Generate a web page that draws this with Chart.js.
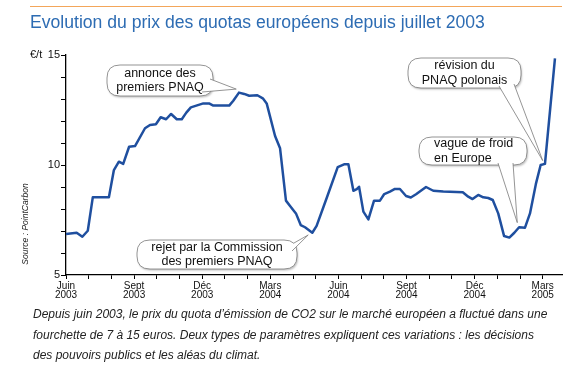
<!DOCTYPE html>
<html>
<head>
<meta charset="utf-8">
<script src="https://cdn.jsdelivr.net/npm/chart.js@4.4.1/dist/chart.umd.min.js"></script>
<style>
  body { margin: 0; background: #fff; }
  #wrap { position: relative; width: 568px; height: 374px; overflow: hidden; font-family: "Liberation Sans", Arial, sans-serif; }
  #topRule { position: absolute; left: 30px; top: 6px; width: 532px; height: 0; border-top: 1.5px solid #f3a65a; }
  #title { position: absolute; left: 30px; top: 12px; font-size: 17.6px; color: #2d6cb3; white-space: nowrap; }
  #unit { position: absolute; left: 30px; top: 48px; font-size: 11px; color: #111; }
  #source { position: absolute; left: 25px; top: 224px; font-size: 8.5px; font-style: italic; color: #222; white-space: nowrap; transform: translate(-50%, -50%) rotate(-90deg); }
  #caption { position: absolute; left: 33px; top: 304px; font-size: 12px; line-height: 20.5px; font-style: italic; color: #222; white-space: nowrap; }
  canvas { position: absolute; left: 0; top: 0; }
</style>
</head>
<body>
<div id="wrap">
  <canvas id="theChart" width="568" height="374"></canvas>
  <div id="topRule"></div>
  <div id="title">Evolution du prix des quotas européens depuis juillet 2003</div>
  <div id="unit">€/t</div>
  <div id="source">Source : PointCarbon</div>
  <div id="caption">Depuis juin 2003, le prix du quota d’émission de CO2 sur le marché européen a fluctué dans une<br>fourchette de 7 à 15 euros. Deux types de paramètres expliquent ces variations  : les décisions<br>des pouvoirs publics et les aléas du climat.</div>
</div>
<script>
'use strict';

// data: months counted from June 2003, price in euros per tonne
let months = [0, 0.47, 0.72, 0.96, 1.18, 1.89, 2.11, 2.33, 2.52, 2.78, 3.04, 3.48, 3.70, 3.96, 4.17, 4.41, 4.63, 4.88, 5.10, 5.30, 5.50,
  6.05, 6.30, 6.49, 7.19, 7.37, 7.62, 7.85, 8.07, 8.43, 8.67, 8.84, 9.21, 9.43, 9.69, 9.87, 10.13, 10.34, 10.53, 10.85, 11.04,
  11.48, 11.97, 12.25, 12.44, 12.66, 12.81, 12.91, 13.10, 13.32, 13.57, 13.83, 14.02, 14.27, 14.49, 14.71, 14.98, 15.19, 15.42,
  15.86, 16.18, 16.62, 17.48, 17.72, 17.91, 18.16, 18.38, 18.60, 18.80, 19.04, 19.30, 19.53, 19.75, 19.96, 20.22, 20.44, 20.70,
  20.91, 21.10, 21.54];
let prices = [6.86, 6.92, 6.74, 7.01, 8.53, 8.53, 9.77, 10.15, 10.05, 10.83, 10.86, 11.67, 11.82, 11.85, 12.17, 12.08, 12.32, 12.08, 12.08, 12.38, 12.62,
  12.80, 12.80, 12.70, 12.70, 12.92, 13.29, 13.23, 13.15, 13.17, 13.03, 12.80, 11.32, 10.76, 8.38, 8.14, 7.80, 7.27, 7.17, 6.92, 7.23,
  8.49, 9.90, 10.03, 10.03, 8.83, 8.90, 9.01, 7.88, 7.53, 8.38, 8.38, 8.68, 8.79, 8.91, 8.91, 8.59, 8.52, 8.67,
  9.00, 8.83, 8.79, 8.76, 8.56, 8.45, 8.64, 8.53, 8.50, 8.41, 7.80, 6.77, 6.70, 6.92, 7.17, 7.15, 7.80, 9.14,
  10.00, 10.05, 14.85];

// x tick labels every 3 months
let tickMonths = [0, 3, 6, 9, 12, 15, 18, 21];
let tickLabels = [['Juin', '2003'], ['Sept', '2003'], ['Déc', '2003'], ['Mars', '2004'], ['Juin', '2004'], ['Sept', '2004'], ['Déc', '2004'], ['Mars', '2005']];
let yLabels = [5, 10, 15];

// callouts: text + where the pointer lands (month, price)
let notes = [
  { lines: ['annonce des', 'premiers PNAQ'], at: [7.5, 13.45] },
  { lines: ['rejet par la Commission', 'des premiers PNAQ'], at: [10.67, 6.82] },
  { lines: ['révision du', 'PNAQ polonais'], at: [21.0, 10.2] },
  { lines: ['vague de froid', 'en Europe'], at: [19.88, 7.38] }
];
// box geometry in pixels for each callout
let noteBoxes = [
  { x: 107, y: 65, w: 106, h: 31, base: [[210, 79], [202, 92]], align: 'center' },
  { x: 137, y: 240, w: 160, h: 29, base: [[294, 243], [292, 251]], align: 'center' },
  { x: 408, y: 58, w: 113, h: 30, base: [[499, 86], [514, 84]], align: 'center' },
  { x: 419, y: 137, w: 108, h: 28, base: [[498, 163], [513, 163]], align: 'left' }
];

function roundRect(ctx, x, y, w, h, r) {
  ctx.beginPath();
  ctx.moveTo(x + r, y);
  ctx.lineTo(x + w - r, y);
  ctx.quadraticCurveTo(x + w, y, x + w, y + r);
  ctx.lineTo(x + w, y + h - r);
  ctx.quadraticCurveTo(x + w, y + h, x + w - r, y + h);
  ctx.lineTo(x + r, y + h);
  ctx.quadraticCurveTo(x, y + h, x, y + h - r);
  ctx.lineTo(x, y + r);
  ctx.quadraticCurveTo(x, y, x + r, y);
  ctx.closePath();
}

const calloutPlugin = {
  id: 'callouts',
  afterDatasetsDraw(chart) {
    const ctx = chart.ctx;
    const xs = chart.scales.x;
    const ys = chart.scales.y;
    for (let i = 0; i < notes.length; i++) {
      const b = noteBoxes[i];
      const tx = xs.getPixelForValue(notes[i].at[0]);
      const ty = ys.getPixelForValue(notes[i].at[1]);
      ctx.save();
      // box with soft shadow
      ctx.shadowColor = 'rgba(0,0,0,0.25)';
      ctx.shadowBlur = 2;
      ctx.shadowOffsetX = 1;
      ctx.shadowOffsetY = 1.5;
      roundRect(ctx, b.x, b.y, b.w, b.h, 13);
      ctx.fillStyle = '#fff';
      ctx.fill();
      ctx.shadowColor = 'transparent';
      ctx.strokeStyle = '#7a7a7a';
      ctx.lineWidth = 0.8;
      ctx.stroke();
      // pointer
      ctx.beginPath();
      ctx.moveTo(b.base[0][0], b.base[0][1]);
      ctx.lineTo(tx, ty);
      ctx.lineTo(b.base[1][0], b.base[1][1]);
      ctx.closePath();
      ctx.fillStyle = '#fff';
      ctx.fill();
      ctx.beginPath();
      ctx.moveTo(b.base[0][0], b.base[0][1]);
      ctx.lineTo(tx, ty);
      ctx.lineTo(b.base[1][0], b.base[1][1]);
      ctx.stroke();
      // text
      ctx.fillStyle = '#111';
      ctx.font = '12.5px "Liberation Sans", Arial, sans-serif';
      ctx.textBaseline = 'middle';
      ctx.textAlign = b.align;
      const lx = b.align === 'center' ? b.x + b.w / 2 : b.x + 15;
      ctx.fillText(notes[i].lines[0], lx, b.y + b.h / 2 - 7);
      ctx.fillText(notes[i].lines[1], lx, b.y + b.h / 2 + 7.5);
      ctx.restore();
    }
  }
};

const config = {
  type: 'line',
  data: {
    datasets: [{
      data: months.map((m, i) => ({ x: m, y: prices[i] })),
      borderColor: '#1f4f9f',
      borderWidth: 2.5,
      pointRadius: 0,
      tension: 0,
      borderJoinStyle: 'round',
      fill: false
    }]
  },
  options: {
    responsive: false,
    animation: false,
    devicePixelRatio: 1,
    layout: { padding: { left: 20, top: 55, right: 6, bottom: 69 } },
    plugins: { legend: { display: false }, tooltip: { enabled: false } },
    scales: {
      x: {
        type: 'linear',
        min: 0,
        max: 21.85,
        afterFit: function (scale) { scale.height = 30; },
        grid: { drawOnChartArea: false, drawTicks: true, tickLength: 4, color: '#000', lineWidth: 1 },
        border: { display: true, color: '#000', width: 1.3 },
        ticks: {
          stepSize: 1,
          includeBounds: false,
          autoSkip: false,
          maxRotation: 0,
          padding: 2,
          color: '#111',
          font: { family: '"Liberation Sans", Arial, sans-serif', size: 10, lineHeight: 0.95 },
          callback: function (value) {
            let k = tickMonths.indexOf(value);
            return k >= 0 ? tickLabels[k] : '';
          }
        }
      },
      y: {
        min: 5,
        max: 15,
        afterFit: function (scale) { scale.width = 46; },
        grid: { drawOnChartArea: false, drawTicks: true, tickLength: 5, color: '#000', lineWidth: 1 },
        border: { display: true, color: '#000', width: 1.3 },
        ticks: {
          stepSize: 1,
          padding: 1,
          color: '#111',
          font: { family: '"Liberation Sans", Arial, sans-serif', size: 11 },
          callback: function (value) {
            return yLabels.includes(value) ? String(value) : '';
          }
        }
      }
    }
  },
  plugins: [calloutPlugin]
};

new Chart(document.getElementById('theChart'), config);
</script>
</body>
</html>
